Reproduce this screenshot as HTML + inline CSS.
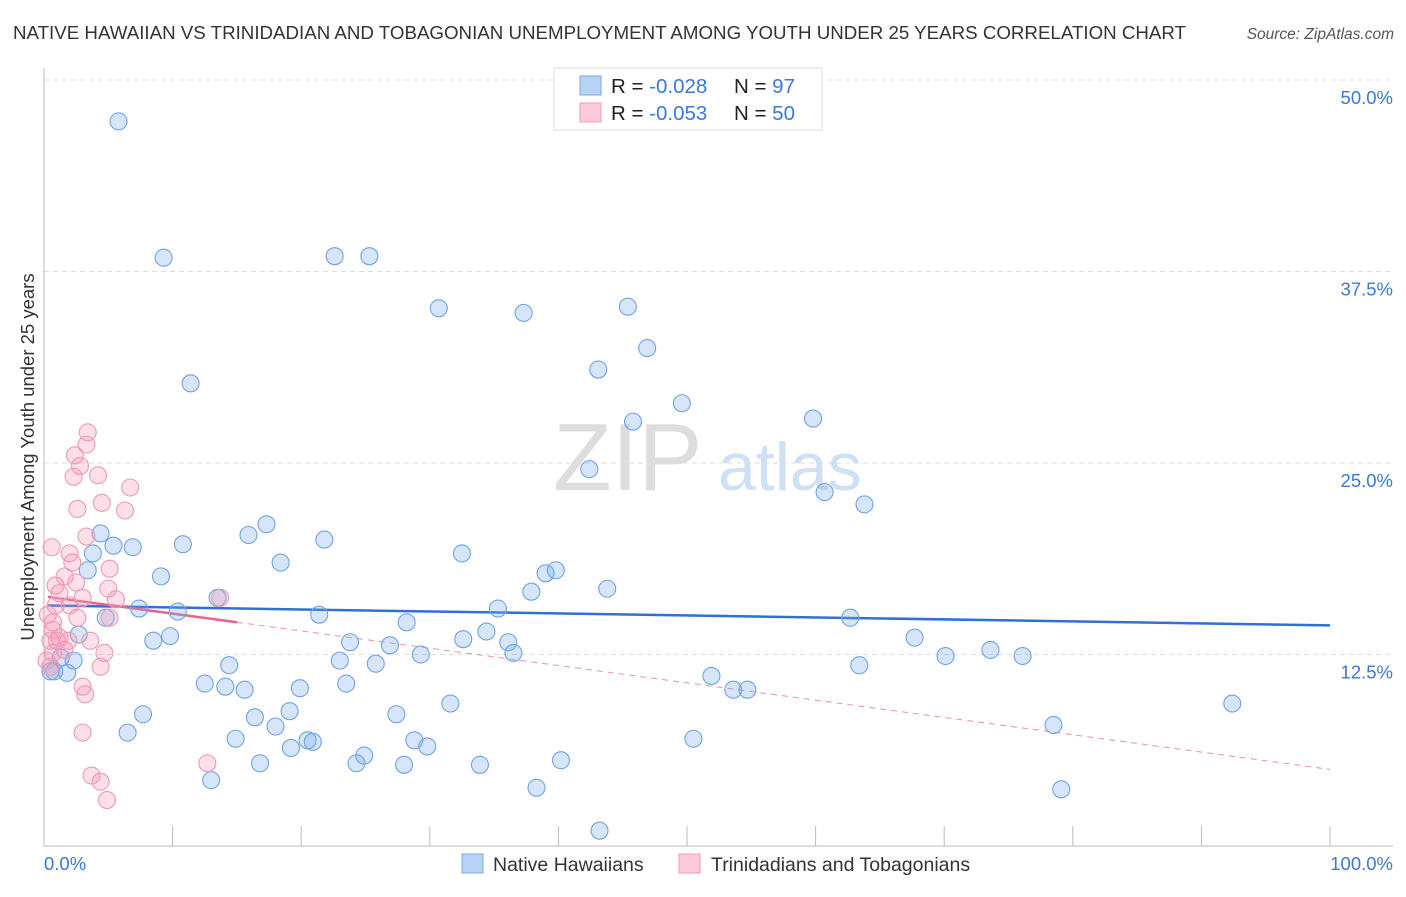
<!DOCTYPE html>
<html><head><meta charset="utf-8"><style>
body{margin:0;background:#fff;font-family:"Liberation Sans",sans-serif;}
svg text{font-family:"Liberation Sans",sans-serif;}
</style></head><body>
<svg id="chart" width="1406" height="892" xmlns="http://www.w3.org/2000/svg">
<text x="13" y="39" font-size="18.6" fill="#333" textLength="1173" lengthAdjust="spacingAndGlyphs">NATIVE HAWAIIAN VS TRINIDADIAN AND TOBAGONIAN UNEMPLOYMENT AMONG YOUTH UNDER 25 YEARS CORRELATION CHART</text>
<text x="1394" y="39" font-size="15.5" fill="#555" font-style="italic" text-anchor="end">Source: ZipAtlas.com</text>
<g>
<text x="553" y="490" font-size="96" fill="#ddd" font-family="Liberation Serif">ZIP</text>
<text x="718" y="490" font-size="68" fill="#cfe0f4">atlas</text>
</g>
<text transform="translate(34,457) rotate(-90)" font-size="18.5" fill="#333" text-anchor="middle">Unemployment Among Youth under 25 years</text>
<g id="grid"></g>
<g id="axes"></g>
<g id="trend"></g>
<g id="points"></g>
<g>
<rect x="554" y="68" width="268" height="62" fill="#fff" stroke="#ddd"/>
<rect x="580" y="76" width="21" height="19" fill="#b6d2f5" stroke="#7aaae6"/>
<rect x="580" y="103" width="21" height="19" fill="#fccbd8" stroke="#f19ab3"/>
<text x="611" y="93" font-size="20.5" fill="#222">R = <tspan fill="#3b78d8">-0.028</tspan></text>
<text x="734" y="93" font-size="20.5" fill="#222">N = <tspan fill="#3b78d8"> 97</tspan></text>
<text x="611" y="120" font-size="20.5" fill="#222">R = <tspan fill="#3b78d8">-0.053</tspan></text>
<text x="734" y="120" font-size="20.5" fill="#222">N = <tspan fill="#3b78d8">50</tspan></text>
</g>
<g>
<rect x="462" y="854" width="21" height="19" fill="#b6d2f5" stroke="#7aaae6"/>
<text x="493" y="871" font-size="19.5" fill="#333">Native Hawaiians</text>
<rect x="679" y="854" width="21" height="19" fill="#fccbd8" stroke="#f19ab3"/>
<text x="711" y="871" font-size="19.5" fill="#333">Trinidadians and Tobagonians</text>
</g>
</svg>
<script>
const yTicks=[12.5,25,37.5,50];
const yTickLabels=["12.5%","25.0%","37.5%","50.0%"];
const xTickValues=[0,10,20,30,40,50,60,70,80,90,100];
const xEndLabels=["0.0%","100.0%"];
const blueX=[5.8,9.3,22.6,25.3,30.7,37.3,45.4,46.9,43.1,11.4,49.6,45.8,59.8,42.4,60.7,63.8,17.3,4.4,15.9,21.8,5.4,6.9,10.8,3.8,32.5,18.4,3.4,39.0,39.8,9.1,43.8,37.9,13.5,7.4,10.4,35.3,21.4,62.7,4.8,28.2,34.4,2.7,9.8,8.5,23.8,32.6,36.1,26.9,67.7,36.5,29.3,70.1,73.6,76.1,23.0,25.8,14.4,63.4,2.3,1.3,0.8,1.8,51.9,12.5,14.1,15.6,19.9,23.5,53.6,54.7,31.6,92.4,19.1,7.7,27.4,16.4,18.0,78.5,6.5,14.9,20.5,50.5,28.8,20.9,19.2,29.8,24.9,24.3,16.8,28.0,33.9,40.2,13.0,38.3,79.1,43.2,0.5];
const blueY=[47.3,38.4,38.5,38.5,35.1,34.8,35.2,32.5,31.1,30.2,28.9,27.7,27.9,24.6,23.1,22.3,21.0,20.4,20.3,20.0,19.6,19.5,19.7,19.1,19.1,18.5,18.0,17.8,18.0,17.6,16.8,16.6,16.2,15.5,15.3,15.5,15.1,14.9,14.9,14.6,14.0,13.8,13.7,13.4,13.3,13.5,13.3,13.1,13.6,12.6,12.5,12.4,12.8,12.4,12.1,11.9,11.8,11.8,12.1,12.3,11.4,11.3,11.1,10.6,10.4,10.2,10.3,10.6,10.2,10.2,9.3,9.3,8.8,8.6,8.6,8.4,7.8,7.9,7.4,7.0,6.9,7.0,6.9,6.8,6.4,6.5,5.9,5.4,5.4,5.3,5.3,5.6,4.3,3.8,3.7,1.0,11.4];
const pinkX=[3.4,3.3,2.4,2.8,2.3,4.2,6.7,4.5,2.6,6.3,3.3,2.0,2.2,5.1,1.6,2.5,0.9,5.0,1.2,3.0,5.6,0.9,2.6,5.1,0.7,0.7,1.2,1.9,1.0,0.5,4.7,0.7,4.4,0.5,3.0,3.2,3.0,3.7,4.4,4.9,12.7,13.7,0.2,0.3,0.6,2.0,1.6,3.6];
const pinkY=[27.0,26.2,25.5,24.8,24.1,24.2,23.4,22.4,22.0,21.9,20.2,19.1,18.5,18.1,17.6,17.2,17.0,16.8,16.5,16.2,16.1,15.7,14.9,14.9,14.6,14.1,13.6,13.4,13.4,13.4,12.6,12.6,11.7,11.7,10.4,9.9,7.4,4.6,4.2,3.0,5.4,16.2,12.1,15.1,19.5,15.7,12.8,13.4];
const blueTrend=[15.7,14.4];
const pinkTrend=[16.3,5.0];
const pinkSolidEnd=15;

const NS="http://www.w3.org/2000/svg";
const X0=44,X1=1330,Y0=846,Y50=80;
function sx(v){return X0+(X1-X0)*v/100;}
function sy(v){return Y0-(Y0-Y50)*v/50;}
function mk(tag,attrs,parent){const e=document.createElementNS(NS,tag);for(const k in attrs)e.setAttribute(k,attrs[k]);parent.appendChild(e);return e;}
const grid=document.getElementById('grid'),axes=document.getElementById('axes'),trend=document.getElementById('trend'),pts=document.getElementById('points');
yTicks.forEach((t,i)=>{
  const l=mk('line',{x1:44,x2:1393,y1:sy(t),y2:sy(t),stroke:'#ddd','stroke-dasharray':'5,4'},grid);
  
  
  const tx=mk('text',{x:1393,y:sy(t)+24,'font-size':18.5,fill:'#3b78d8','text-anchor':'end'},grid);
  tx.textContent=yTickLabels[i];
  
  
});
const ax=mk('line',{x1:44,x2:44,y1:68,y2:Y0,stroke:'#bbb'},axes);


const bx=mk('line',{x1:44,x2:1393,y1:Y0,y2:Y0,stroke:'#bbb'},axes);


xTickValues.forEach(v=>{
  const t=mk('line',{x1:sx(v),x2:sx(v),y1:Y0,y2:826,stroke:'#bbb'},axes);
  
  
});
const xl=mk('text',{x:44,y:870,'font-size':18.5,fill:'#3b78d8'},axes);xl.textContent=xEndLabels[0];


const xr=mk('text',{x:1393,y:870,'font-size':18.5,fill:'#3b78d8','text-anchor':'end'},axes);xr.textContent=xEndLabels[1];


function dot(x,y,fill,stroke,name){
  const c=mk('circle',{cx:sx(x),cy:sy(y),r:8.5,fill:fill,stroke:stroke,'stroke-width':1.1},pts);
  
  
}
blueX.forEach((x,i)=>dot(x,blueY[i],'rgba(120,170,235,0.3)','#6ea4e6','native-hawaiian-point'));
pinkX.forEach((x,i)=>dot(x,pinkY[i],'rgba(245,150,180,0.3)','#ef9ab3','trinidadian-point'));
function ly(tr,v){return tr[0]+(tr[1]-tr[0])*v/100;}
const bl=mk('line',{x1:sx(0.3),y1:sy(ly(blueTrend,0.3)),x2:sx(100),y2:sy(ly(blueTrend,100)),stroke:'#2f6fd6','stroke-width':2.5},trend);


const pl=mk('line',{x1:sx(0.3),y1:sy(ly(pinkTrend,0.3)),x2:sx(pinkSolidEnd),y2:sy(ly(pinkTrend,pinkSolidEnd)),stroke:'#e8638b','stroke-width':2.5},trend);


const pd=mk('line',{x1:sx(pinkSolidEnd),y1:sy(ly(pinkTrend,pinkSolidEnd)),x2:sx(100),y2:sy(ly(pinkTrend,100)),stroke:'#ec8fab','stroke-width':1,'stroke-dasharray':'6,5'},trend);


</script>
</body></html>
